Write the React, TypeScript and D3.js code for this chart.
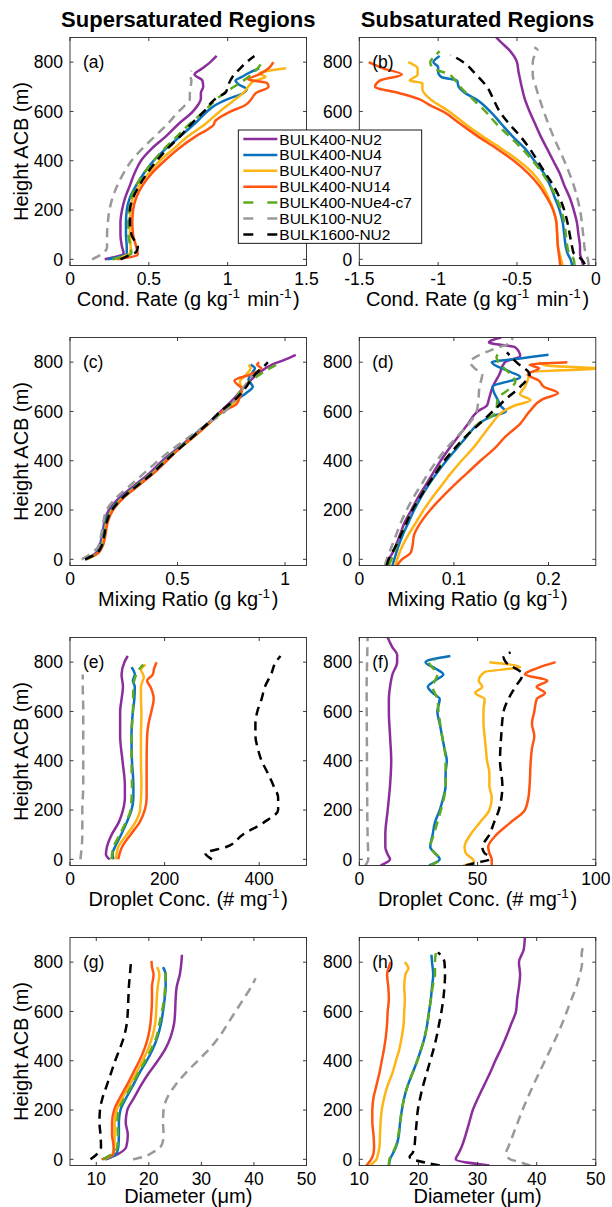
import * as d3 from 'd3';

type Pt = [number, number]; // [height ACB in m, value]

const seriesNames = ['BULK400-NU2', 'BULK400-NU4', 'BULK400-NU7', 'BULK400-NU14', 'BULK400-NUe4-c7', 'BULK100-NU2', 'BULK1600-NU2'];
const seriesColors = ['#8C2D9C', '#0A72BD', '#FDB515', '#FF5511', '#5EAA1E', '#999999', '#000000'];
const seriesDashed = [false, false, false, false, true, true, true];

const heightDomain: [number, number] = [-25, 900];
const heightTicks = [0, 200, 400, 600, 800];

// (a) condensation rate, supersaturated
const condSuper: Pt[][] = [
  [[0,0.22],[25,0.34],[50,0.33],[100,0.32],[150,0.32],[200,0.33],[250,0.35],[300,0.38],[350,0.41],[400,0.45],[450,0.52],[500,0.61],[550,0.69],[600,0.78],[625,0.81],[650,0.83],[675,0.83],[700,0.845],[725,0.84],[750,0.79],[775,0.84],[800,0.89],[825,0.93]],
  [[0,0.24],[25,0.36],[50,0.36],[100,0.355],[150,0.355],[200,0.36],[250,0.38],[300,0.42],[350,0.47],[400,0.53],[450,0.61],[500,0.7],[550,0.79],[600,0.87],[625,0.92],[650,1.0],[675,1.1],[690,1.12],[710,1.07],[725,1.05],[740,1.09],[755,1.13],[775,1.2]],
  [[0,0.275],[25,0.38],[50,0.385],[100,0.38],[150,0.38],[200,0.385],[250,0.4],[300,0.44],[350,0.5],[400,0.57],[450,0.66],[500,0.75],[550,0.86],[600,0.95],[625,1.0],[650,1.05],[675,1.1],[700,1.13],[725,1.17],[740,1.24],[755,1.2],[765,1.26],[775,1.37]],
  [[0,0.3],[20,0.43],[50,0.42],[100,0.4],[150,0.395],[200,0.4],[250,0.42],[300,0.46],[350,0.52],[400,0.6],[450,0.69],[500,0.8],[530,0.88],[545,0.91],[560,0.92],[600,1.02],[625,1.11],[650,1.15],[675,1.18],[700,1.26],[715,1.25],[730,1.13],[750,1.2],[775,1.26],[800,1.29]],
  [[0,0.27],[25,0.39],[50,0.385],[100,0.37],[150,0.37],[200,0.375],[250,0.39],[300,0.42],[350,0.47],[400,0.53],[450,0.6],[500,0.68],[550,0.76],[600,0.85],[650,0.93],[675,0.98],[700,1.04],[725,1.1],[750,1.15],[775,1.19],[800,1.22]],
  [[0,0.14],[25,0.21],[50,0.235],[100,0.235],[150,0.24],[200,0.25],[250,0.27],[300,0.3],[350,0.34],[400,0.39],[450,0.46],[500,0.54],[550,0.62],[600,0.69],[625,0.73],[650,0.76],[675,0.76],[700,0.765],[725,0.77],[750,0.76],[765,0.77]],
  [[0,0.32],[15,0.37],[30,0.42],[50,0.43],[75,0.41],[100,0.39],[150,0.38],[200,0.38],[250,0.4],[300,0.44],[350,0.49],[400,0.55],[450,0.62],[500,0.7],[550,0.77],[600,0.85],[650,0.92],[680,0.99],[700,1.0],[740,1.03],[775,1.08],[800,1.12],[825,1.17]],
];

// (b) condensation rate, subsaturated
const condSub: Pt[][] = [
  [[-25,-0.08],[0,-0.09],[25,-0.1],[50,-0.1],[100,-0.11],[150,-0.12],[200,-0.14],[250,-0.165],[300,-0.2],[350,-0.23],[400,-0.27],[450,-0.31],[500,-0.35],[550,-0.385],[600,-0.42],[650,-0.45],[700,-0.47],[730,-0.48],[760,-0.49],[800,-0.5],[850,-0.55],[880,-0.6],[920,-0.66]],
  [[-25,-0.15],[0,-0.16],[25,-0.18],[50,-0.19],[100,-0.2],[150,-0.21],[200,-0.23],[250,-0.26],[300,-0.29],[350,-0.33],[400,-0.39],[450,-0.45],[500,-0.53],[550,-0.6],[600,-0.67],[650,-0.76],[675,-0.83],[700,-0.87],[725,-0.88],[740,-0.98],[760,-1.0],[780,-1.0],[800,-1.03],[825,-0.99]],
  [[-25,-0.21],[0,-0.22],[25,-0.23],[50,-0.24],[100,-0.245],[150,-0.25],[200,-0.27],[250,-0.3],[300,-0.34],[350,-0.4],[400,-0.49],[450,-0.6],[500,-0.72],[550,-0.83],[600,-0.93],[650,-1.05],[690,-1.1],[715,-1.1],[725,-1.18],[750,-1.13],[775,-1.13],[800,-1.19]],
  [[-25,-0.225],[0,-0.23],[25,-0.235],[50,-0.24],[100,-0.245],[150,-0.25],[200,-0.27],[250,-0.31],[300,-0.36],[350,-0.43],[400,-0.52],[450,-0.63],[500,-0.75],[550,-0.86],[600,-0.97],[625,-1.05],[650,-1.12],[675,-1.25],[700,-1.4],[725,-1.37],[750,-1.23],[775,-1.35],[800,-1.44]],
  [[-25,-0.135],[0,-0.14],[25,-0.17],[50,-0.18],[100,-0.19],[150,-0.2],[200,-0.22],[250,-0.25],[300,-0.29],[350,-0.34],[400,-0.4],[450,-0.47],[500,-0.55],[550,-0.63],[600,-0.7],[650,-0.78],[700,-0.86],[725,-0.89],[750,-0.93],[775,-1.03],[800,-1.05],[825,-1.02],[845,-0.99]],
  [[-25,-0.045],[0,-0.05],[25,-0.065],[100,-0.08],[200,-0.1],[300,-0.14],[400,-0.2],[500,-0.27],[600,-0.33],[700,-0.38],[750,-0.4],[800,-0.4],[825,-0.39],[850,-0.37],[860,-0.39]],
  [[-20,-0.07],[0,-0.09],[25,-0.14],[50,-0.15],[100,-0.165],[150,-0.18],[200,-0.2],[250,-0.23],[300,-0.27],[350,-0.32],[400,-0.37],[450,-0.42],[500,-0.48],[550,-0.55],[600,-0.61],[650,-0.65],[700,-0.69],[750,-0.76],[800,-0.84],[830,-0.92]],
];

// (c) mixing ratio, supersaturated
const mixSuper: Pt[][] = [
  [[0,0.07],[25,0.12],[50,0.135],[100,0.15],[150,0.16],[200,0.18],[250,0.23],[300,0.3],[350,0.37],[400,0.43],[450,0.5],[500,0.57],[550,0.64],[600,0.7],[650,0.76],[700,0.81],[750,0.87],[790,0.94],[810,1.0],[830,1.05]],
  [[0,0.07],[25,0.125],[50,0.14],[100,0.155],[150,0.165],[200,0.19],[250,0.24],[300,0.31],[350,0.38],[400,0.44],[450,0.505],[500,0.575],[550,0.64],[600,0.71],[650,0.78],[675,0.82],[700,0.85],[730,0.83],[760,0.85],[775,0.86],[790,0.84]],
  [[0,0.075],[25,0.13],[50,0.145],[100,0.16],[150,0.17],[200,0.195],[250,0.245],[300,0.315],[350,0.385],[400,0.445],[450,0.51],[500,0.58],[550,0.645],[600,0.71],[650,0.78],[690,0.8],[720,0.79],[750,0.82],[775,0.84],[790,0.83]],
  [[0,0.075],[25,0.13],[50,0.15],[100,0.165],[150,0.175],[200,0.2],[250,0.25],[300,0.32],[350,0.39],[400,0.45],[450,0.51],[500,0.58],[550,0.645],[600,0.71],[630,0.775],[660,0.79],[690,0.8],[725,0.765],[750,0.84],[775,0.89],[790,0.87],[800,0.88]],
  [[0,0.075],[25,0.125],[50,0.145],[100,0.16],[150,0.17],[200,0.195],[250,0.245],[300,0.31],[350,0.38],[400,0.44],[450,0.505],[500,0.575],[550,0.64],[600,0.71],[650,0.77],[680,0.79],[700,0.81],[730,0.85],[760,0.9],[780,0.94],[790,0.96]],
  [[0,0.055],[25,0.1],[50,0.13],[100,0.145],[150,0.155],[200,0.17],[250,0.215],[300,0.28],[350,0.345],[400,0.41],[450,0.48],[500,0.56],[550,0.64],[600,0.72],[650,0.77],[700,0.81],[750,0.85]],
  [[0,0.07],[25,0.125],[50,0.145],[100,0.16],[150,0.17],[200,0.195],[250,0.245],[300,0.315],[350,0.385],[400,0.445],[450,0.51],[500,0.575],[550,0.64],[600,0.7],[650,0.77],[700,0.82],[750,0.86],[790,0.91],[800,0.92]],
];

// (d) mixing ratio, subsaturated
const mixSub: Pt[][] = [
  [[-25,0.0275],[0,0.031],[25,0.035],[50,0.038],[100,0.043],[150,0.048],[200,0.055],[250,0.062],[300,0.07],[350,0.078],[400,0.086],[450,0.095],[500,0.105],[550,0.115],[600,0.125],[625,0.135],[650,0.137],[700,0.141],[750,0.148],[800,0.154],[825,0.17],[860,0.165],[880,0.137],[900,0.15]],
  [[-25,0.035],[0,0.037],[50,0.041],[100,0.046],[150,0.052],[200,0.058],[250,0.065],[300,0.073],[350,0.082],[400,0.092],[450,0.103],[500,0.114],[550,0.126],[580,0.14],[600,0.155],[620,0.15],[650,0.146],[680,0.142],[700,0.141],[740,0.17],[760,0.16],[800,0.14],[815,0.17],[830,0.2]],
  [[-25,0.038],[0,0.04],[50,0.045],[100,0.052],[150,0.06],[200,0.068],[250,0.077],[300,0.087],[350,0.097],[400,0.108],[450,0.12],[500,0.13],[550,0.14],[600,0.152],[625,0.165],[645,0.181],[670,0.17],[700,0.175],[740,0.179],[760,0.18],[775,0.252],[785,0.2],[800,0.19]],
  [[-25,0.04],[0,0.045],[25,0.054],[50,0.056],[100,0.058],[150,0.065],[200,0.075],[250,0.087],[300,0.1],[350,0.114],[400,0.128],[450,0.143],[500,0.155],[550,0.17],[600,0.18],[650,0.194],[675,0.21],[700,0.195],[725,0.19],[750,0.178],[775,0.19],[790,0.18],[800,0.22]],
  [[-25,0.031],[0,0.034],[50,0.039],[100,0.044],[150,0.05],[200,0.056],[250,0.064],[300,0.072],[350,0.081],[400,0.09],[450,0.101],[500,0.113],[550,0.126],[600,0.145],[650,0.146],[690,0.158],[720,0.165],[750,0.16],[780,0.152],[820,0.145],[835,0.147]],
  [[-25,0.027],[0,0.029],[50,0.034],[100,0.039],[150,0.044],[200,0.05],[250,0.057],[300,0.065],[350,0.073],[400,0.082],[450,0.092],[500,0.104],[550,0.116],[600,0.124],[650,0.126],[700,0.127],[750,0.13],[775,0.122],[800,0.117],[825,0.125],[850,0.14],[880,0.16],[900,0.162]],
  [[-25,0.029],[0,0.031],[50,0.038],[100,0.044],[150,0.05],[200,0.056],[250,0.064],[300,0.072],[350,0.081],[400,0.09],[450,0.101],[500,0.113],[550,0.127],[600,0.141],[650,0.155],[700,0.17],[750,0.18],[800,0.166],[840,0.156]],
];

// (e) droplet concentration, supersaturated
const concSuper: Pt[][] = [
  [[0,84],[20,76],[50,78],[100,88],[150,103],[200,112],[250,116],[300,116],[400,111],[500,106],[600,106],[650,109],[700,112],[750,109],[800,115],[825,122]],
  [[0,92],[25,90],[50,95],[100,108],[150,120],[200,130],[250,134],[300,134],[400,131],[500,130],[600,133],[650,136],[700,137],[725,133],[750,137],[780,130]],
  [[0,97],[50,102],[100,120],[150,138],[200,148],[300,151],[400,150],[500,150],[600,151],[650,150],[700,150],[740,156],[770,150],[790,160]],
  [[0,102],[50,110],[100,128],[150,147],[200,158],[250,162],[300,162],[400,162],[500,163],[550,166],[600,172],[650,177],[700,170],[725,163],[750,175],[775,178],[800,183]],
  [[0,88],[50,92],[100,105],[150,118],[200,128],[300,131],[400,130],[500,130],[600,133],[700,134],[750,140],[775,148],[790,155]],
  [[0,22],[100,26],[200,26],[300,28],[400,28],[500,28],[600,28],[700,27],[750,27]],
  [[0,300],[25,286],[50,330],[100,365],[150,410],[200,440],[250,440],[300,430],[350,418],[400,405],[450,397],[500,392],[550,392],[600,396],[650,405],[700,412],[750,425],[800,435],[825,445]],
];

// (f) droplet concentration, subsaturated
const concSub: Pt[][] = [
  [[-25,9],[0,13],[20,12],[50,11],[100,11],[200,12],[300,13],[400,13.5],[500,13],[600,12.5],[650,12.5],[700,13],[750,14],[800,16],[830,16],[860,14],[900,12]],
  [[-25,29.5],[0,34],[25,32],[50,30],[100,31],[150,32],[200,34],[250,35.5],[300,36.5],[350,36.5],[400,37],[450,36],[500,35],[550,34],[600,33],[650,34],[675,31],[700,29],[725,32],[750,35.5],[775,32],[800,28],[825,38.5]],
  [[-25,44],[-10,48.5],[0,48],[25,45],[50,44.5],[100,47],[150,51],[200,55],[250,56],[300,55],[350,55],[400,54],[450,53.5],[500,53],[550,52.5],[600,52.5],[650,53],[675,49],[700,52],[725,50.5],[760,53],[780,68],[800,55]],
  [[-25,56],[0,56],[25,55],[50,54.5],[100,58],[150,64],[200,70],[250,71.5],[300,72],[400,72.5],[450,73],[500,74],[550,73],[600,74],[650,75],[675,78.5],[700,75],[725,79.5],[750,70],[775,75],[800,83]],
  [[-25,30],[0,34],[50,30],[100,31.5],[150,33],[200,34.5],[300,36.5],[400,36.5],[500,35],[600,33.5],[650,33],[700,31],[750,33],[800,29.5],[810,32]],
  [[-25,2.5],[0,3.8],[100,3.5],[300,3.3],[500,3.2],[700,3.1],[800,3.3],[900,3.5]],
  [[-25,45],[-15,49],[0,55],[10,55],[25,53],[50,52],[100,55],[150,57],[200,59],[300,60.5],[400,59.5],[500,60],[600,61],[650,63],[700,66],[750,69],[800,62],[820,61],[840,64]],
];

// (g) diameter, supersaturated
const diamSuper: Pt[][] = [
  [[0,11.8],[20,14],[50,15.7],[100,16],[150,15.6],[200,15.9],[250,17.2],[300,18.5],[350,20],[400,21.7],[450,23.2],[500,24.2],[550,24.8],[600,25],[650,25.1],[700,25.3],[750,25.9],[800,26.2],[830,26.3]],
  [[0,11.6],[20,13.7],[50,14.2],[100,14.3],[150,14.3],[200,14.6],[250,15.7],[300,17],[350,18.2],[400,19.6],[450,20.8],[500,21.7],[550,22.3],[600,22.7],[650,23],[700,23.2],[750,23.2],[780,22.7]],
  [[0,11.3],[20,13.1],[50,13.4],[100,13.5],[150,13.5],[200,13.9],[250,15],[300,16.3],[350,17.6],[400,18.8],[450,19.9],[500,20.7],[550,21.2],[600,21.4],[650,21.5],[700,21.7],[750,22],[780,21.6]],
  [[0,11],[25,13.3],[50,13.3],[100,13],[150,13],[200,13.4],[250,14.5],[300,15.8],[350,17],[400,18.2],[450,19.2],[500,19.9],[550,20.3],[600,20.5],[650,20.6],[700,20.6],[750,20.9],[780,20.6],[805,20.5]],
  [[0,11.3],[50,14],[100,14.1],[150,14],[200,14.3],[250,15.4],[300,16.8],[350,18],[400,19.3],[450,20.5],[500,21.5],[550,22],[600,22.5],[650,22.9],[700,23.1],[750,23.2],[775,23]],
  [[0,17],[10,19],[25,20.5],[50,22.2],[75,22.7],[100,22.8],[150,22.7],[200,22.8],[250,23.5],[300,25],[350,27],[400,29.3],[450,31.6],[500,33.5],[550,35],[600,36.5],[650,38],[700,39.5],[735,40.3]],
  [[0,8.9],[25,10.3],[50,10.9],[100,10.8],[150,10.6],[200,10.7],[250,11.2],[300,12],[350,12.8],[400,13.6],[450,14.5],[500,15.3],[550,15.8],[600,16],[650,16.1],[700,16.2],[750,16.4],[800,16.6]],
];

// (h) diameter, subsaturated
const diamSub: Pt[][] = [
  [[-25,32],[0,26.3],[25,26.8],[50,27.3],[100,28],[150,28.6],[200,29.2],[250,30.1],[300,31.1],[350,32.1],[400,33],[450,34],[500,34.9],[550,35.7],[600,36.5],[650,36.7],[700,37],[750,37.2],[800,37],[850,37.8],[900,38]],
  [[-25,15],[0,15.2],[25,15.7],[50,16.2],[100,16.7],[150,16.9],[200,17.2],[250,17.6],[300,18.2],[350,19],[400,19.8],[450,20.5],[500,21.1],[550,21.5],[600,21.8],[650,22.1],[700,22.3],[750,22.5],[800,22.3],[830,22.2]],
  [[-25,11.8],[0,12.9],[25,13.2],[50,13.4],[100,13.5],[150,13.6],[200,13.8],[250,14.2],[300,14.8],[350,15.6],[400,16.2],[450,16.8],[500,17.2],[550,17.5],[600,17.6],[650,17.7],[700,17.6],[750,17.8],[775,18.3],[800,17.7]],
  [[-25,11.2],[0,12],[25,12.4],[50,12.5],[100,12.4],[150,12.2],[200,12.2],[250,12.4],[300,12.9],[350,13.4],[400,13.8],[450,14.2],[500,14.5],[550,14.7],[600,14.8],[650,15],[700,14.9],[750,14.7],[780,15],[800,15.3]],
  [[-25,15],[0,15.1],[25,15.6],[50,16.1],[100,16.6],[150,16.9],[200,17.2],[250,17.6],[300,18.2],[350,19],[400,19.8],[450,20.5],[500,21.1],[550,21.5],[600,21.8],[650,22.1],[700,22.4],[750,22.8],[800,22.8],[830,22.9],[850,23.3]],
  [[-25,38.9],[-10,37],[0,35.5],[25,34.8],[50,35.2],[100,36],[150,36.8],[200,37.6],[250,38.5],[300,39.4],[350,40.4],[400,41.4],[450,42.4],[500,43.4],[550,44.3],[600,45.1],[650,45.9],[700,46.7],[750,47.3],[800,47.7],[830,47.6],[860,47.8]],
  [[-25,23.6],[-15,21.5],[0,19],[10,18.5],[25,19],[50,19.3],[100,19.5],[150,19.7],[200,19.9],[250,20.3],[300,20.8],[350,21.4],[400,22],[450,22.6],[500,23.1],[550,23.5],[600,23.9],[650,24.2],[700,24.4],[750,24.5],[800,24.4],[825,23.9],[840,23.3]],
];

const FONT = '"Liberation Sans", Arial, Helvetica, sans-serif';
const PW = 236.5;
const PH = 228;
const colX = [70, 359.3];
const rowY = [37.5, 337.5, 637.5, 937.5];
const AXIS = '#262626';

const Sup = ({ children }: { children: string }) => (
  <>
    <tspan dy={-8} fontSize={13.5}>{children}</tspan>
    <tspan dy={8}>{'\u200A'}</tspan>
  </>
);

type PanelProps = {
  id: string;
  x0: number;
  y0: number;
  data: Pt[][];
  xDomain: [number, number];
  xTicks: number[];
  tag: string;
  xLabel: React.ReactNode;
  labelGap?: number;
  yLabel: boolean;
};

function Panel({ id, x0, y0, data, xDomain, xTicks, tag, xLabel, labelGap = 40, yLabel }: PanelProps) {
  const x = d3.scaleLinear().domain(xDomain).range([x0, x0 + PW]);
  const y = d3.scaleLinear().domain(heightDomain).range([y0 + PH, y0]);
  const line = d3.line<Pt>().x(d => x(d[1])).y(d => y(d[0])).curve(d3.curveMonotoneY);
  const tl = 3.5;
  return (
    <g>
      <defs>
        <clipPath id={`clip-${id}`}>
          <rect x={x0} y={y0} width={PW} height={PH} />
        </clipPath>
      </defs>
      <g clipPath={`url(#clip-${id})`}>
        {data.map((s, i) => (
          <path key={i} d={line(s) ?? ''} fill="none" stroke={seriesColors[i]} strokeWidth={2.5}
            strokeLinejoin="round" strokeDasharray={seriesDashed[i] ? '9,6' : undefined} />
        ))}
      </g>
      <rect x={x0} y={y0} width={PW} height={PH} fill="none" stroke={AXIS} strokeWidth={0.9} />
      {xTicks.map(t => (
        <g key={`x${t}`}>
          <line x1={x(t)} x2={x(t)} y1={y0 + PH} y2={y0 + PH - tl} stroke={AXIS} strokeWidth={0.9} />
          <line x1={x(t)} x2={x(t)} y1={y0} y2={y0 + tl} stroke={AXIS} strokeWidth={0.9} />
          <text x={x(t)} y={y0 + PH + 19} textAnchor="middle" fontSize={17.5} fill="#000">{String(t)}</text>
        </g>
      ))}
      {heightTicks.map(t => (
        <g key={`y${t}`}>
          <line x1={x0} x2={x0 + tl} y1={y(t)} y2={y(t)} stroke={AXIS} strokeWidth={0.9} />
          <line x1={x0 + PW} x2={x0 + PW - tl} y1={y(t)} y2={y(t)} stroke={AXIS} strokeWidth={0.9} />
          <text x={x0 - 7} y={y(t)} dy="0.36em" textAnchor="end" fontSize={17.5} fill="#000">{t}</text>
        </g>
      ))}
      <text x={x0 + 13} y={y(800)} dy="0.36em" fontSize={17.5}>{tag}</text>
      <text x={x0 + PW / 2} y={y0 + PH + labelGap} textAnchor="middle" fontSize={20}>{xLabel}</text>
      {yLabel && (
        <text transform={`translate(28,${y0 + PH / 2}) rotate(-90)`} textAnchor="middle" fontSize={20}>Height ACB (m)</text>
      )}
    </g>
  );
}

function Legend({ x0, y0 }: { x0: number; y0: number }) {
  const w = 183.4;
  const h = 113.3;
  return (
    <g>
      <rect x={x0} y={y0} width={w} height={h} fill="#fff" stroke="#000" strokeWidth={0.9} />
      {seriesNames.map((name, i) => {
        const cy = y0 + 9 + i * 15.9;
        return (
          <g key={name}>
            <line x1={x0 + 5} x2={x0 + 39} y1={cy} y2={cy} stroke={seriesColors[i]} strokeWidth={2.5}
              strokeDasharray={seriesDashed[i] ? '10,14' : undefined} />
            <text x={x0 + 41} y={cy} dy="0.36em" fontSize={15.5}>{name}</text>
          </g>
        );
      })}
    </g>
  );
}

export default function App() {
  const condLabel = (<>Cond. Rate (g kg<Sup>-1</Sup> min<Sup>-1</Sup>)</>);
  const mixLabel = (<>Mixing Ratio (g kg<Sup>-1</Sup>)</>);
  const concLabel = (<>Droplet Conc. (# mg<Sup>-1</Sup>)</>);
  const diamLabel = (<>Diameter ({'\u03BC'}m)</>);
  return (
    <svg width={612} height={1207} viewBox="0 0 612 1207"
      style={{ position: 'absolute', left: 0, top: 0, background: '#fff' }} fontFamily={FONT}>
      <text x={colX[0] + PW / 2} y={27} textAnchor="middle" fontSize={22} fontWeight="bold">Supersaturated Regions</text>
      <text x={colX[1] + PW / 2} y={27} textAnchor="middle" fontSize={22} fontWeight="bold">Subsaturated Regions</text>

      <Panel id="a" x0={colX[0]} y0={rowY[0]} data={condSuper} xDomain={[0, 1.5]} xTicks={[0, 0.5, 1, 1.5]} tag="(a)" xLabel={condLabel} yLabel />
      <Panel id="b" x0={colX[1]} y0={rowY[0]} data={condSub} xDomain={[-1.5, 0]} xTicks={[-1.5, -1, -0.5, 0]} tag="(b)" xLabel={condLabel} yLabel={false} />
      <Panel id="c" x0={colX[0]} y0={rowY[1]} data={mixSuper} xDomain={[0, 1.1]} xTicks={[0, 0.5, 1]} tag="(c)" xLabel={mixLabel} yLabel />
      <Panel id="d" x0={colX[1]} y0={rowY[1]} data={mixSub} xDomain={[0, 0.25]} xTicks={[0, 0.1, 0.2]} tag="(d)" xLabel={mixLabel} yLabel={false} />
      <Panel id="e" x0={colX[0]} y0={rowY[2]} data={concSuper} xDomain={[0, 500]} xTicks={[0, 200, 400]} tag="(e)" xLabel={concLabel} yLabel />
      <Panel id="f" x0={colX[1]} y0={rowY[2]} data={concSub} xDomain={[0, 100]} xTicks={[0, 50, 100]} tag="(f)" xLabel={concLabel} yLabel={false} />
      <Panel id="g" x0={colX[0]} y0={rowY[3]} data={diamSuper} xDomain={[5, 50]} xTicks={[10, 20, 30, 40, 50]} tag="(g)" xLabel={diamLabel} labelGap={37} yLabel />
      <Panel id="h" x0={colX[1]} y0={rowY[3]} data={diamSub} xDomain={[10, 50]} xTicks={[10, 20, 30, 40, 50]} tag="(h)" xLabel={diamLabel} labelGap={37} yLabel={false} />

      <Legend x0={238.3} y0={130} />
    </svg>
  );
}
